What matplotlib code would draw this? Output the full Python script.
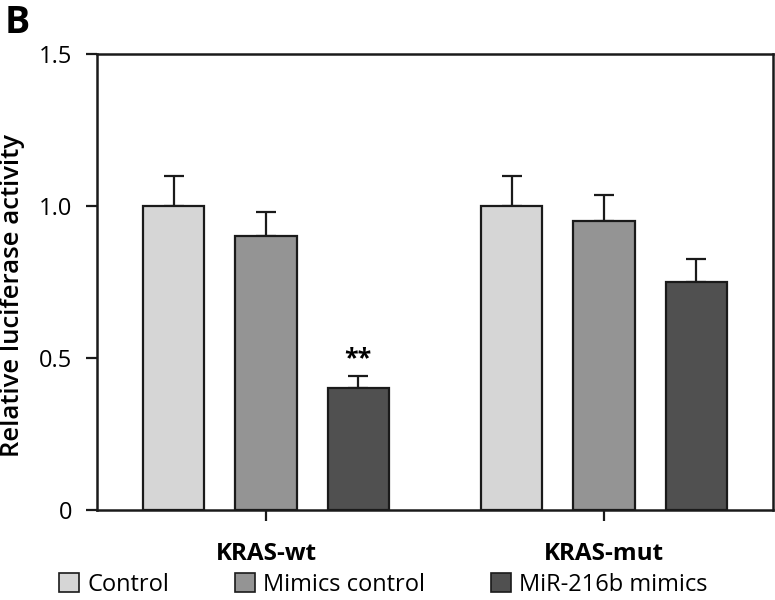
import matplotlib
matplotlib.use("Agg")
import matplotlib.pyplot as plt
import numpy as np
from matplotlib.patches import Patch

groups = ["KRAS-wt", "KRAS-mut"]
series = ["Control", "Mimics control", "MiR-216b mimics"]
values = {
    "Control": [1.00, 1.00],
    "Mimics control": [0.90, 0.95],
    "MiR-216b mimics": [0.40, 0.75],
}
errors = {
    "Control": [0.10, 0.10],
    "Mimics control": [0.08, 0.085],
    "MiR-216b mimics": [0.04, 0.075],
}
colors = ["#d6d6d6", "#949494", "#505050"]
yticks = [0, 0.5, 1.0, 1.5]
ytick_labels = ["0", "0.5", "1.0", "1.5"]

plt.rcParams['font.family'] = ['Open Sans', 'DejaVu Sans']

fig = plt.figure(figsize=(7.75, 6.0), dpi=100)
ax = fig.add_axes([97/775, 90/600, (773-97)/775, (510-54)/600])

x = np.arange(len(groups))
offset = 0.2726
width = 0.181
edge = "#1a1a1a"
for i, s in enumerate(series):
    pos = x + (i - 1) * offset
    ax.bar(pos, values[s], width=width, color=colors[i], edgecolor=edge,
           linewidth=1.6, zorder=2)
    ax.errorbar(pos, values[s], yerr=[np.zeros(len(groups)), errors[s]],
                fmt="none", ecolor=edge, elinewidth=1.6, capsize=7.5,
                capthick=1.6, zorder=1)

# significance mark
ax.text(x[0] + offset, values["MiR-216b mimics"][0] + errors["MiR-216b mimics"][0] + 0.015,
        "**", ha="center", va="bottom", fontsize=18, fontweight="bold")

ax.set_xlim(-0.5, 1.5)
ax.set_ylim(0, 1.5)
ax.set_yticks(yticks)
ax.set_yticklabels(ytick_labels, fontsize=17)
ax.set_xticks(x)
ax.set_xticklabels(groups, fontsize=17.5, fontweight="bold")
ax.tick_params(axis="y", length=8, width=1.6, pad=10, color=edge)
ax.tick_params(axis="x", length=8, width=1.6, pad=15, color=edge)
for sp in ax.spines.values():
    sp.set_linewidth(1.8)
    sp.set_color(edge)
ax.set_ylabel("Relative luciferase activity", fontsize=18.5, fontweight="semibold")
ax.yaxis.set_label_coords((25 - 97) / 676, 0.47)

handles = [Patch(facecolor=colors[i], edgecolor=edge, linewidth=1.2, label=s)
           for i, s in enumerate(series)]
fig.legend(handles=handles, loc="center left", bbox_to_anchor=(59/775, 1 - 585/600),
           ncol=3, frameon=False, fontsize=17, handlelength=0.85, handleheight=0.85,
           handletextpad=0.34, columnspacing=2.8, borderaxespad=0, borderpad=0)

fig.text(5/775, 1 - 4/600, "B", fontsize=27, fontweight="bold", ha="left", va="top")

fig.savefig("out.png", dpi=100)
